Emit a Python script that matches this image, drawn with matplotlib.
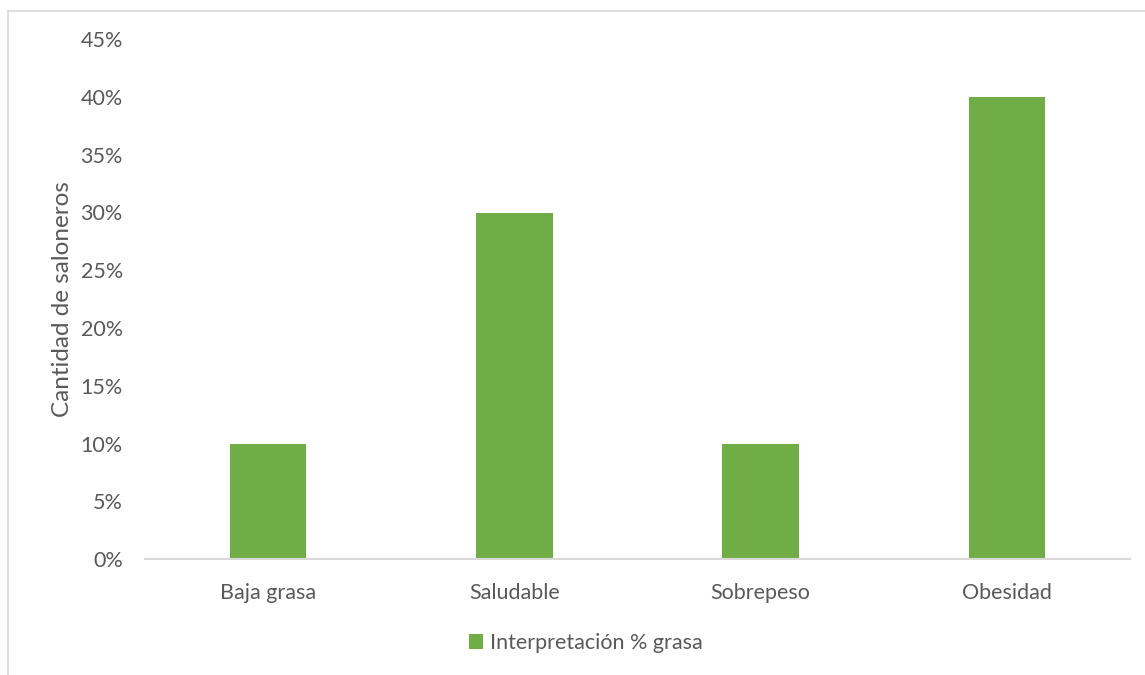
import matplotlib.pyplot as plt
from matplotlib.ticker import PercentFormatter

categories = ["Baja grasa", "Saludable", "Sobrepeso", "Obesidad"]
values = [10, 30, 10, 40]
series_name = "Interpretación % grasa"
y_ticks = [0, 5, 10, 15, 20, 25, 30, 35, 40, 45]

plt.rcParams['font.family'] = ['Lato', 'DejaVu Sans']
text_color = "#595959"
bar_color = "#70AD47"

fig = plt.figure(figsize=(11.45, 6.75), dpi=100)
ax = fig.add_axes([145 / 1145, 1 - 559 / 675, (1130 - 145) / 1145, (559 - 39.25) / 675])

x = range(len(categories))
ax.bar(x, values, width=0.31, color=bar_color, label=series_name, zorder=2)

ax.set_xlim(-0.5, len(categories) - 0.5)
ax.set_ylim(0, 45)
ax.set_yticks(y_ticks)
ax.yaxis.set_major_formatter(PercentFormatter(decimals=0))
ax.set_xticks(list(x))
ax.set_xticklabels(categories)
ax.tick_params(axis='both', length=0, labelsize=15.5, colors=text_color)
ax.tick_params(axis='x', pad=17)
ax.tick_params(axis='y', pad=16)

ax.set_ylabel("Cantidad de saloneros", fontsize=17.5, color=text_color, labelpad=5)

for side in ['top', 'right', 'left']:
    ax.spines[side].set_visible(False)
ax.spines['bottom'].set_color("#D9D9D9")
ax.spines['bottom'].set_linewidth(1.5)

leg = fig.legend(loc='center', bbox_to_anchor=(586 / 1145, 1 - 643 / 675), frameon=False,
                 fontsize=15.5, handlelength=0.65, handleheight=0.65, handletextpad=0.35)
for t in leg.get_texts():
    t.set_color(text_color)

# outer chart frame (left and top edges)
fig.add_artist(plt.Line2D([8 / 1145, 8 / 1145], [0, 1 - 11 / 675], transform=fig.transFigure,
                          color="#D9D9D9", linewidth=1.2))
fig.add_artist(plt.Line2D([8 / 1145, 1], [1 - 11 / 675, 1 - 11 / 675], transform=fig.transFigure,
                          color="#D9D9D9", linewidth=1.2))

fig.savefig("out.png", dpi=100)
